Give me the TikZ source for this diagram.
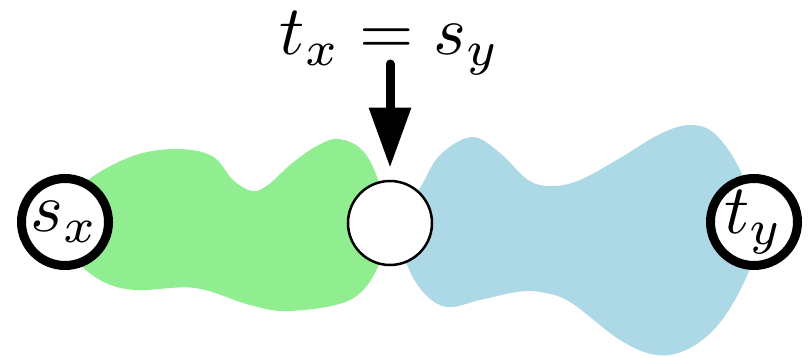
\documentclass[tikz,border=0pt]{standalone}
\usepackage{graphicx}
\usetikzlibrary{arrows.meta}
\definecolor{blobgreen}{HTML}{90EE90}
\definecolor{blobblue}{HTML}{ADD8E6}
\newcommand{\bigmath}[1]{\scalebox{7}{$#1$}}
\begin{document}
\begin{tikzpicture}[x=1pt,y=-1pt,
  endpt/.style={circle, draw, line width=9pt, fill=white, minimum size=87pt, inner sep=0pt},
  midpt/.style={circle, draw, line width=2.5pt, fill=white, minimum size=84pt, inner sep=0pt},
  bigtext/.style={inner sep=0pt},
  pointer/.style={line width=9pt, line cap=round, -{Triangle[length=60pt,width=40pt]}}]
\useasboundingbox (0,0) rectangle (812,358);
\fill[blobgreen] plot[smooth cycle, tension=0.6] coordinates {
  (82,185) (130,157) (175,149) (212,156) (233,180) (252,191) (268,185) (290,165)
  (315,147) (338,139) (362,150) (378,180) (386,225) (378,267) (350,300) (290,311)
  (250,305) (195,288) (135,290) (100,280) (72,255) (60,222)};
\fill[blobblue] plot[smooth cycle, tension=0.6] coordinates {
  (420,188) (440,155) (472,137) (500,153) (528,180) (552,186) (580,180)
  (620,158) (660,134) (690,125) (715,134) (740,170) (756,222) (750,268) (722,320)
  (690,348) (657,355) (620,340) (570,302) (540,292) (517,292) (480,300) (447,307)
  (423,292) (406,262) (398,222)};
\node[endpt] (sx) at (65,222) {\bigmath{s_x}};
\node[endpt] (ty) at (754,222) {\bigmath{t_y}};
\node[midpt] (mid) at (390,223) {};
\node[bigtext, anchor=base] (lbl) at (390,55) {\bigmath{t_x = s_y}};
\coordinate (astart) at (390,64);
\draw[pointer, shorten >=12pt] (astart) -- (mid.north);
\end{tikzpicture}
\end{document}
